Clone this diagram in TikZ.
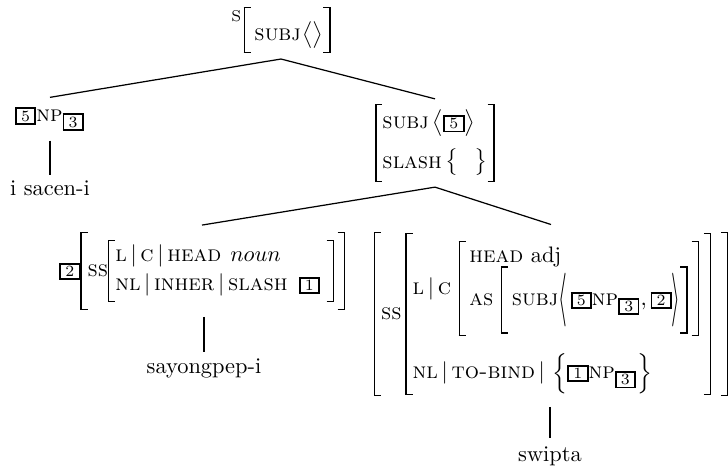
\documentclass[tikz,border=0pt]{standalone}
\usepackage{amsmath}
\usepackage{graphicx}
\newcommand{\tg}[1]{{\setlength{\fboxsep}{0.6pt}\setlength{\fboxrule}{0.85pt}\fbox{\hspace{1.3pt}\scriptsize #1\hspace{1.3pt}}}}
\newcommand{\LB}[1]{\mathopen{\vcenter{\hrule width 3.2pt height 0.5pt\hbox to 3.2pt{\vrule width 0.55pt height \dimexpr#1-1pt\relax\hfil}\hrule width 3.2pt height 0.5pt}}}
\newcommand{\RB}[1]{\mathclose{\vcenter{\hrule width 3.2pt height 0.5pt\hbox to 3.2pt{\hfil\vrule width 0.55pt height \dimexpr#1-1pt\relax}\hrule width 3.2pt height 0.5pt}}}
\newcommand{\LA}[1]{\mathopen{\vcenter{\hbox{\scalebox{1}[#1]{$\langle$}}}}}
\newcommand{\RA}[1]{\mathclose{\vcenter{\hbox{\scalebox{1}[#1]{$\rangle$}}}}}
\begin{document}
\begin{tikzpicture}[x=0.4464pt,y=-0.4464pt,
  every node/.style={inner sep=0pt,outer sep=0pt},
  branch/.style={line width=0.55pt},
  stem/.style={line width=0.9pt}]
\useasboundingbox (0,0) rectangle (728,474);
% root
\node[outer ysep=2.7pt] (root) at (281,30) {\raisebox{6.2pt}{\scriptsize S}\kern1pt$\LB{20.5pt}\raisebox{-2.4pt}{$\,\textsc{subj}\mkern1mu\big\langle\big\rangle$}\RB{20.5pt}$};
% left daughter
\node[outer ysep=4.5pt] (np) at (50,119) {\tg{5}$\textsc{np}_{\tg{3}}$};
\node[anchor=base] (w1) at (50,195) {i sacen-i};
% right daughter
\node[outer ysep=2.2pt] (vp) at (435,143) {$\LB{35pt}\begin{array}{@{}l@{}}\textsc{subj}\,\big\langle\tg{5}\big\rangle\\[5.4pt]\textsc{slash}\,\big\{\hspace{7pt}\big\}\end{array}\RB{35pt}$};
% lower left
\node[outer ysep=3pt] (lav) at (202,271) {\tg{2}$\LB{35pt}\textsc{ss}\LB{28pt}\begin{array}{@{}l@{}}\textsc{l}\,|\,\textsc{c}\,|\,\textsc{head}\hspace{4pt}noun\\[1pt]\textsc{nl}\,|\,\textsc{inher}\,|\,\textsc{slash}\hspace{5pt}\tg{1}\end{array}\hspace{3pt}\RB{28pt}\,\RB{35pt}$};
\node[anchor=base] (w2) at (204,373) {sayongpep-i};
% lower right
\node[outer ysep=3.2pt] (rav) at (551,314) {$\LB{73.5pt}\textsc{ss}\,\LB{72pt}\raisebox{-1.5pt}{$\begin{array}{@{}l@{}}\textsc{l}\,|\,\textsc{c}\ \LB{42.5pt}\,\begin{array}{@{}l@{}}\textsc{head}\ \text{adj}\\[-2pt]\textsc{as}\ \LB{30pt}\,\textsc{subj}\LA{2.4}\,\tg{5}\textsc{np}_{\tg{3}},\tg{2}\RA{2.4}\RB{30pt}\end{array}\hspace{1.8pt}\RB{42.5pt}\\\rule{0pt}{19pt}\textsc{nl}\,|\,\textsc{to-bind}\,|\ \Big\{\tg{1}\textsc{np}_{\tg{3}}\Big\}\end{array}$}\hspace{2.2pt}\RB{72pt}\hspace{4.4pt}\RB{73.5pt}$};
\node[anchor=base] (w3) at (550,461) {swipta};
% connectors
\draw[branch] (root.south) -- (np.north);
\draw[branch] (root.south) -- (vp.north);
\draw[branch] (vp.south) -- (lav.north);
\draw[branch] (vp.south) -- (rav.north);
\draw[stem,shorten >=2.2pt] (np.south) -- (np.south |- w1.north);
\draw[stem,shorten >=2.7pt] (lav.south -| w2.north) -- (w2.north);
\draw[stem,shorten <=1.5pt,shorten >=3.5pt] (rav.south -| w3.north) -- (w3.north);
\end{tikzpicture}
\end{document}
